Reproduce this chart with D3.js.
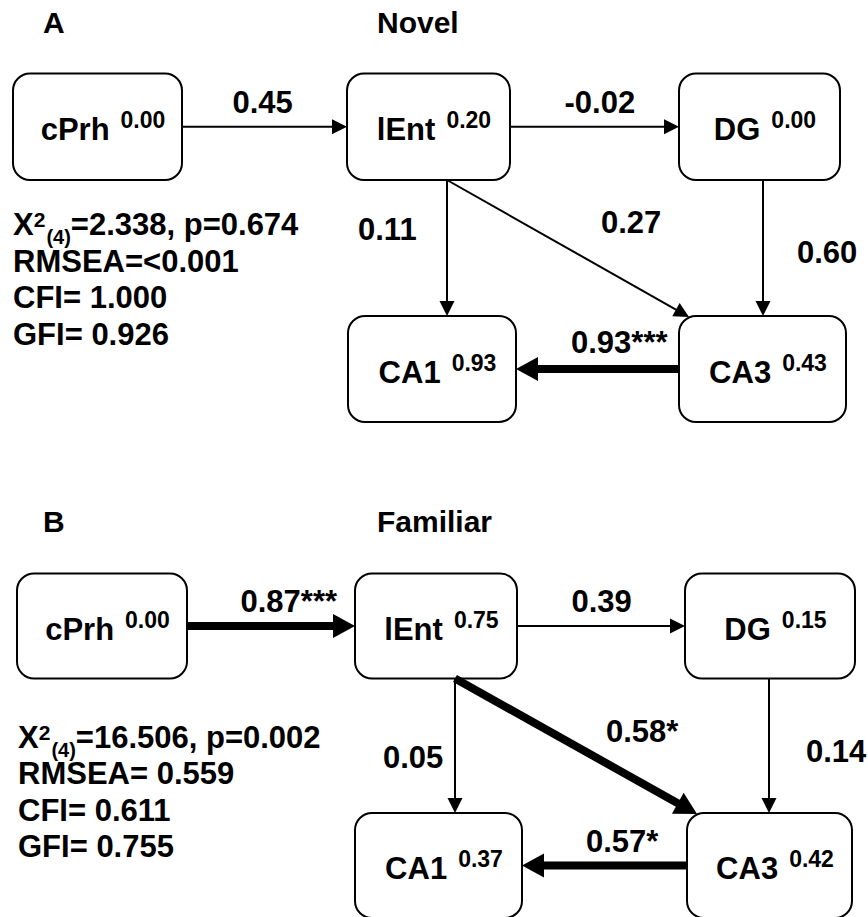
<!DOCTYPE html>
<html>
<head>
<meta charset="utf-8">
<script src="https://cdn.jsdelivr.net/npm/d3@7"></script>
<style>
  html, body { margin: 0; padding: 0; background: #fff; }
  svg { display: block; }
  text { font-family: "Liberation Sans", Arial, Helvetica, sans-serif; font-weight: bold; fill: #000; }
</style>
</head>
<body>
<svg id="chart" width="868" height="917"></svg>
<script>
// ---------------- DATA ----------------
const panelLetters = ["A", "B"];
const conditions = ["Novel", "Familiar"];
const nodeNames = ["cPrh", "lEnt", "DG", "CA1", "CA3"];
const r2Novel = ["0.00", "0.20", "0.00", "0.93", "0.43"];
const r2Familiar = ["0.00", "0.75", "0.15", "0.37", "0.42"];
const pathFrom = ["cPrh", "lEnt", "lEnt", "lEnt", "DG", "CA3"];
const pathTo = ["lEnt", "DG", "CA1", "CA3", "CA3", "CA1"];
const coefNovel = [0.45, -0.02, 0.11, 0.27, 0.60, 0.93];
const sigNovel = ["", "", "", "", "", "***"];
const coefFamiliar = [0.87, 0.39, 0.05, 0.58, 0.14, 0.57];
const sigFamiliar = ["***", "", "", "*", "", "*"];
const chi2 = ["2.338", "16.506"];
const chi2df = ["4", "4"];
const chi2p = ["0.674", "0.002"];
const rmsea = ["<0.001", "0.559"];
const cfi = ["1.000", "0.611"];
const gfi = ["0.926", "0.755"];

// ---------------- LAYOUT ----------------
const layout = [
  {
    titleY: 33, letterX: 43, titleX: 377,
    boxes: { cPrh: [13, 182, 73.5, 180], lEnt: [347, 510, 73.5, 180], DG: [679, 840, 73.5, 180],
             CA1: [348, 516, 316, 422], CA3: [679, 846, 316, 422] },
    stats: { x: 13, y: 235, lh: 36.7 },
    labelOff: [[-32.5, -13.75], [-30.5, -14], [-89, -8], [33, -15.5], [34, 15], [-26.5, -16]]
  },
  {
    titleY: 532, letterX: 43, titleX: 377,
    boxes: { cPrh: [17, 187, 573.5, 678.5], lEnt: [355, 517, 573.5, 678.5], DG: [685, 855, 573.5, 678.5],
             CA1: [355, 522, 813, 918], CA3: [687, 852, 813, 918] },
    stats: { x: 18, y: 748, lh: 36.3 },
    labelOff: [[-31, -14], [-30, -14], [-72, 22], [30, -4], [37, 16], [-18.5, -13.5]]
  }
];

const r2All = [r2Novel, r2Familiar];
const coefAll = [coefNovel, coefFamiliar];
const sigAll = [sigNovel, sigFamiliar];

const svg = d3.select("#chart");
const fmt = v => (v < 0 ? "-" : "") + Math.abs(v).toFixed(2);

function arrow(g, p0, p1, thick) {
  const w = thick ? 8 : 2;
  const L = thick ? 22 : 15;
  const W = thick ? 24 : 15;
  const dx = p1[0] - p0[0], dy = p1[1] - p0[1];
  const len = Math.hypot(dx, dy);
  const ux = dx / len, uy = dy / len;
  const nx = -uy, ny = ux;
  const bx = p1[0] - ux * L, by = p1[1] - uy * L;
  g.append("line")
    .attr("x1", p0[0]).attr("y1", p0[1])
    .attr("x2", bx + ux * 2).attr("y2", by + uy * 2)
    .attr("stroke", "#000").attr("stroke-width", w);
  g.append("path")
    .attr("d", d3.line()([[p1[0], p1[1]], [bx + nx * W / 2, by + ny * W / 2], [bx - nx * W / 2, by - ny * W / 2]]) + "Z")
    .attr("fill", "#000");
}

layout.forEach((lay, pi) => {
  const g = svg.append("g");
  // titles
  g.append("text").attr("x", lay.letterX).attr("y", lay.titleY).attr("font-size", 30).text(panelLetters[pi]);
  g.append("text").attr("x", lay.titleX).attr("y", lay.titleY).attr("font-size", 30).text(conditions[pi]);

  const B = lay.boxes;
  const cx = n => (B[n][0] + B[n][1]) / 2;
  const cy = n => (B[n][2] + B[n][3]) / 2;

  // nodes
  nodeNames.forEach((n, i) => {
    const b = B[n];
    g.append("rect")
      .attr("x", b[0]).attr("y", b[2])
      .attr("width", b[1] - b[0]).attr("height", b[3] - b[2])
      .attr("rx", 17).attr("ry", 17)
      .attr("fill", "#fff").attr("stroke", "#000").attr("stroke-width", 2);
    const t = g.append("text").attr("y", cy(n) + 13.5).attr("font-size", 31);
    t.append("tspan").text(n);
    t.append("tspan").attr("dx", 11).attr("dy", -12).attr("font-size", 23).text(r2All[pi][i]);
    const w = t.node().getComputedTextLength();
    t.attr("x", cx(n) - w / 2);
  });

  // edges
  pathFrom.forEach((from, i) => {
    const to = pathTo[i];
    const thick = sigAll[pi][i].length > 0;
    let p0, p1;
    if (i === 0 || i === 1) {           // horizontal, top row
      p0 = [B[from][1] + 1, cy(from)];
      p1 = [B[to][0], cy(from)];
    } else if (i === 2) {               // lEnt -> CA1 vertical
      const x = B[from][0] + 100;
      p0 = [x, B[from][3]];
      p1 = [x, B[to][2]];
    } else if (i === 3) {               // lEnt -> CA3 diagonal
      p0 = [B[from][0] + 100, B[from][3]];
      p1 = [B[to][0] + 10, B[to][2] + 1];
    } else if (i === 4) {               // DG -> CA3 vertical
      const x = B[from][0] + 84;
      p0 = [x, B[from][3]];
      p1 = [x, B[to][2]];
    } else {                            // CA3 -> CA1 horizontal, bottom row
      p0 = [B[from][0], cy(from)];
      p1 = [B[to][1], cy(from)];
    }
    arrow(g, p0, p1, thick);
    const mx = (p0[0] + p1[0]) / 2, my = (p0[1] + p1[1]) / 2;
    g.append("text")
      .attr("x", mx + lay.labelOff[i][0])
      .attr("y", my + lay.labelOff[i][1])
      .attr("font-size", 31)
      .text(fmt(coefAll[pi][i]) + sigAll[pi][i]);
  });

  // fit statistics
  const s = lay.stats;
  const t0 = g.append("text").attr("x", s.x).attr("y", s.y).attr("font-size", 31);
  t0.append("tspan").text("X");
  t0.append("tspan").attr("font-size", 21).attr("dy", -8).text("2");
  t0.append("tspan").attr("font-size", 20).attr("dx", 1).attr("dy", 17).text("(" + chi2df[pi] + ")");
  t0.append("tspan").attr("dy", -9).text("=" + chi2[pi] + ", p=" + chi2p[pi]);
  const statLines = [
    "RMSEA=" + (rmsea[pi].startsWith("<") ? "" : " ") + rmsea[pi],
    "CFI= " + cfi[pi],
    "GFI= " + gfi[pi]
  ];
  statLines.forEach((line, k) => {
    g.append("text").attr("x", s.x).attr("y", s.y + s.lh * (k + 1)).attr("font-size", 31).text(line);
  });
});
</script>
</body>
</html>
